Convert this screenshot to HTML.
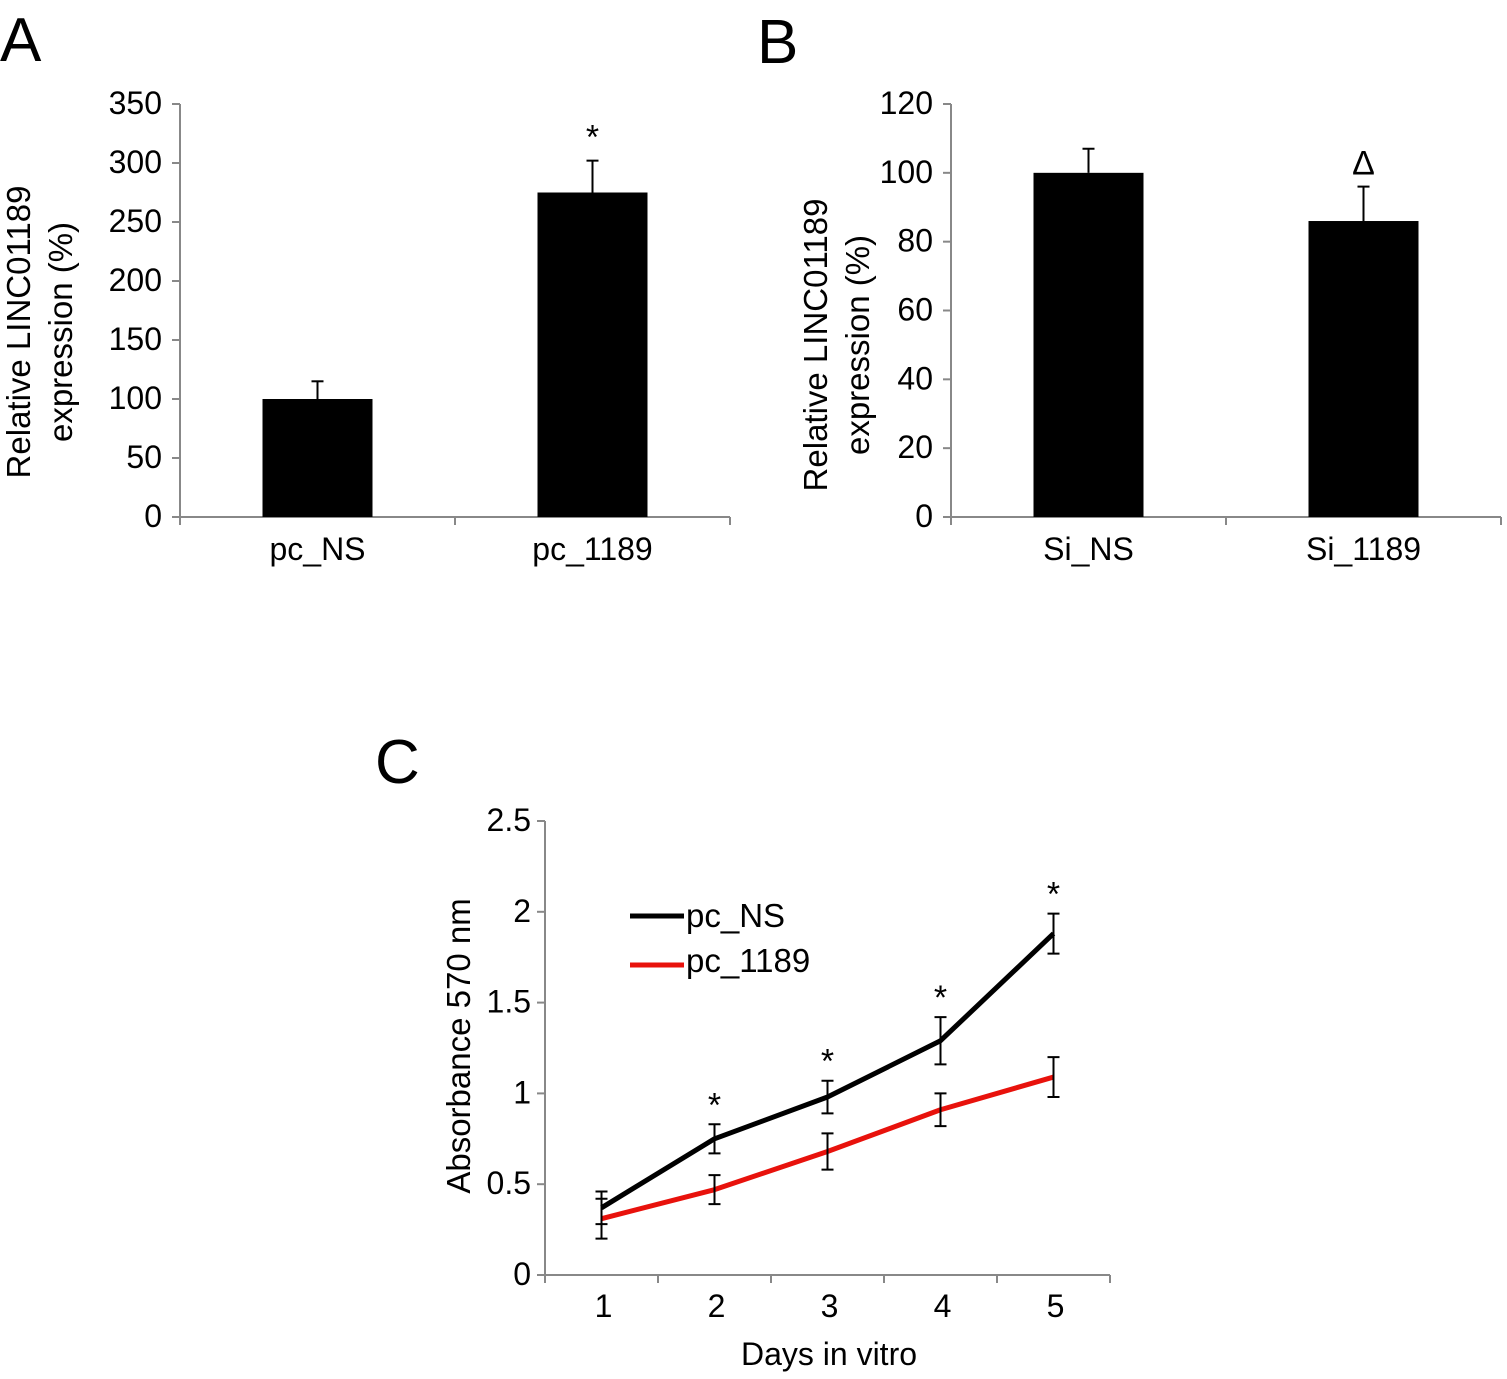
<!DOCTYPE html>
<html><head><meta charset="utf-8"><style>
html,body{margin:0;padding:0;background:#fff}
svg text{font-family:"Liberation Sans",Arial,sans-serif;fill:#000}
</style></head><body>
<svg width="1507" height="1374" viewBox="0 0 1507 1374" id="fig">
<text x="0" y="61" font-size="62">A</text>
<text x="757" y="63" font-size="62">B</text>
<text x="375" y="783" font-size="62">C</text>
<g id="pa"></g>
<g id="pb"></g>
<g id="pc"></g>
</svg>
<script>
const aCats=["pc_NS","pc_1189"];
const aVals=[100,275];
const aErr=[15,27];
const aTicks=[0,50,100,150,200,250,300,350];
const aMarks=["","*"];
const bCats=["Si_NS","Si_1189"];
const bVals=[100,86];
const bErr=[7,10];
const bTicks=[0,20,40,60,80,100,120];
const bMarks=["","Δ"];
const cDays=["1","2","3","4","5"];
const cNS=[0.37,0.75,0.98,1.29,1.88];
const cNSErr=[0.09,0.08,0.09,0.13,0.11];
const c1189=[0.31,0.47,0.68,0.91,1.09];
const c1189Err=[0.11,0.08,0.1,0.09,0.11];
const cTicks=[0,0.5,1,1.5,2,2.5];
const cTickLabels=["0","0.5","1","1.5","2","2.5"];
const cStars=["","*","*","*","*"];
const NS="http://www.w3.org/2000/svg";
const FS=32;
function mk(p,t,a,txt){const e=document.createElementNS(NS,t);for(const k in a)e.setAttribute(k,a[k]);if(txt!==undefined)e.textContent=txt;p.appendChild(e);return e;}
function barPanel(g,x0,x1,yTop,yBot,max,ticks,cats,vals,errs,marks,ylab1,ylab2,labX,labY,bw,markFont){
  const y=v=>yBot-(v/max)*(yBot-yTop);
  const cw=(x1-x0)/cats.length;
  let l=mk(g,'line',{x1:x0,y1:yTop,x2:x0,y2:yBot,stroke:'#888','stroke-width':2});
  
  l=mk(g,'line',{x1:x0,y1:yBot,x2:x1,y2:yBot,stroke:'#888','stroke-width':2});
  
  ticks.forEach(t=>{mk(g,'line',{x1:x0-8,y1:y(t),x2:x0,y2:y(t),stroke:'#888','stroke-width':2});
    const tx=mk(g,'text',{x:x0-18,y:y(t)+10,'font-size':FS,'text-anchor':'end'},String(t));
    });
  for(let i=0;i<=cats.length;i++)mk(g,'line',{x1:x0+i*cw,y1:yBot,x2:x0+i*cw,y2:yBot+8,stroke:'#888','stroke-width':2});
  cats.forEach((c,i)=>{const cx=x0+cw*(i+0.5);
    const r=mk(g,'rect',{x:cx-bw/2,y:y(vals[i]),width:bw,height:yBot-y(vals[i]),fill:'#000'});
    
    mk(g,'line',{x1:cx,y1:y(vals[i]),x2:cx,y2:y(vals[i]+errs[i]),stroke:'#000','stroke-width':2});
    mk(g,'line',{x1:cx-6,y1:y(vals[i]+errs[i]),x2:cx+6,y2:y(vals[i]+errs[i]),stroke:'#000','stroke-width':2});
    const t=mk(g,'text',{x:cx,y:yBot+43,'font-size':FS,'text-anchor':'middle'},c);
    
    if(marks[i]){const m=mk(g,'text',{x:cx,y:y(vals[i]+errs[i])-12,'font-size':markFont,'text-anchor':'middle','font-family':'Liberation Serif'},marks[i]);
      }
  });
  const yl=mk(g,'text',{transform:`translate(${labX},${labY}) rotate(-90)`,'font-size':FS+1,'text-anchor':'middle'});
  
  mk(yl,'tspan',{x:0,y:0},ylab1);mk(yl,'tspan',{x:0,y:42},ylab2);
}
barPanel(document.getElementById('pa'),180,730,104,517,350,aTicks,aCats,aVals,aErr,aMarks,'Relative LINC01189','expression (%)',30,332,110,34);
barPanel(document.getElementById('pb'),951,1501,104,517,120,bTicks,bCats,bVals,bErr,bMarks,'Relative LINC01189','expression (%)',827,345,110,34);
(function(){
  const g=document.getElementById('pc');
  const x0=545,x1=1110,yTop=821,yBot=1275,max=2.5;
  const y=v=>yBot-(v/max)*(yBot-yTop);
  const cw=(x1-x0)/cDays.length;
  const x=i=>x0+cw*(i+0.5);
  let l=mk(g,'line',{x1:x0,y1:yTop,x2:x0,y2:yBot,stroke:'#888','stroke-width':2});
  
  l=mk(g,'line',{x1:x0,y1:yBot,x2:x1,y2:yBot,stroke:'#888','stroke-width':2});
  
  cTicks.forEach((t,i)=>{mk(g,'line',{x1:x0-8,y1:y(t),x2:x0,y2:y(t),stroke:'#888','stroke-width':2});
    const tx=mk(g,'text',{x:x0-14,y:y(t)+10,'font-size':FS,'text-anchor':'end'},cTickLabels[i]);
    });
  for(let i=0;i<=cDays.length;i++)mk(g,'line',{x1:x0+i*cw,y1:yBot,x2:x0+i*cw,y2:yBot+8,stroke:'#888','stroke-width':2});
  cDays.forEach((d,i)=>{const t=mk(g,'text',{x:x(i)+2,y:yBot+42,'font-size':FS,'text-anchor':'middle'},d);
    });
  function series(vals,errs,col,name){
    const p=mk(g,'polyline',{points:vals.map((v,i)=>x(i)+','+y(v)).join(' '),fill:'none',stroke:col,'stroke-width':5,'stroke-linejoin':'round'});
    
    vals.forEach((v,i)=>{const e=mk(g,'path',{d:`M${x(i)},${y(v-errs[i])}V${y(v+errs[i])}M${x(i)-6},${y(v-errs[i])}h12M${x(i)-6},${y(v+errs[i])}h12`,stroke:'#000','stroke-width':2,fill:'none'});
      });
  }
  series(c1189,c1189Err,'#e8120c','pc_1189');
  series(cNS,cNSErr,'#000','pc_NS');
  cStars.forEach((s,i)=>{if(!s)return;const m=mk(g,'text',{x:x(i),y:y(cNS[i]+cNSErr[i])-8,'font-size':34,'text-anchor':'middle'},s);
    });
  mk(g,'line',{x1:630,y1:916,x2:684,y2:916,stroke:'#000','stroke-width':5});
  let t=mk(g,'text',{x:686,y:927,'font-size':33},'pc_NS');
  mk(g,'line',{x1:630,y1:965,x2:684,y2:965,stroke:'#e8120c','stroke-width':5});
  t=mk(g,'text',{x:686,y:972,'font-size':33},'pc_1189');
  t=mk(g,'text',{x:829,y:1365,'font-size':FS,'text-anchor':'middle'},'Days in vitro');
  t=mk(g,'text',{transform:'translate(470,1046) rotate(-90)','font-size':FS+1,'text-anchor':'middle'},'Absorbance 570 nm');
})();
</script>
</body></html>
